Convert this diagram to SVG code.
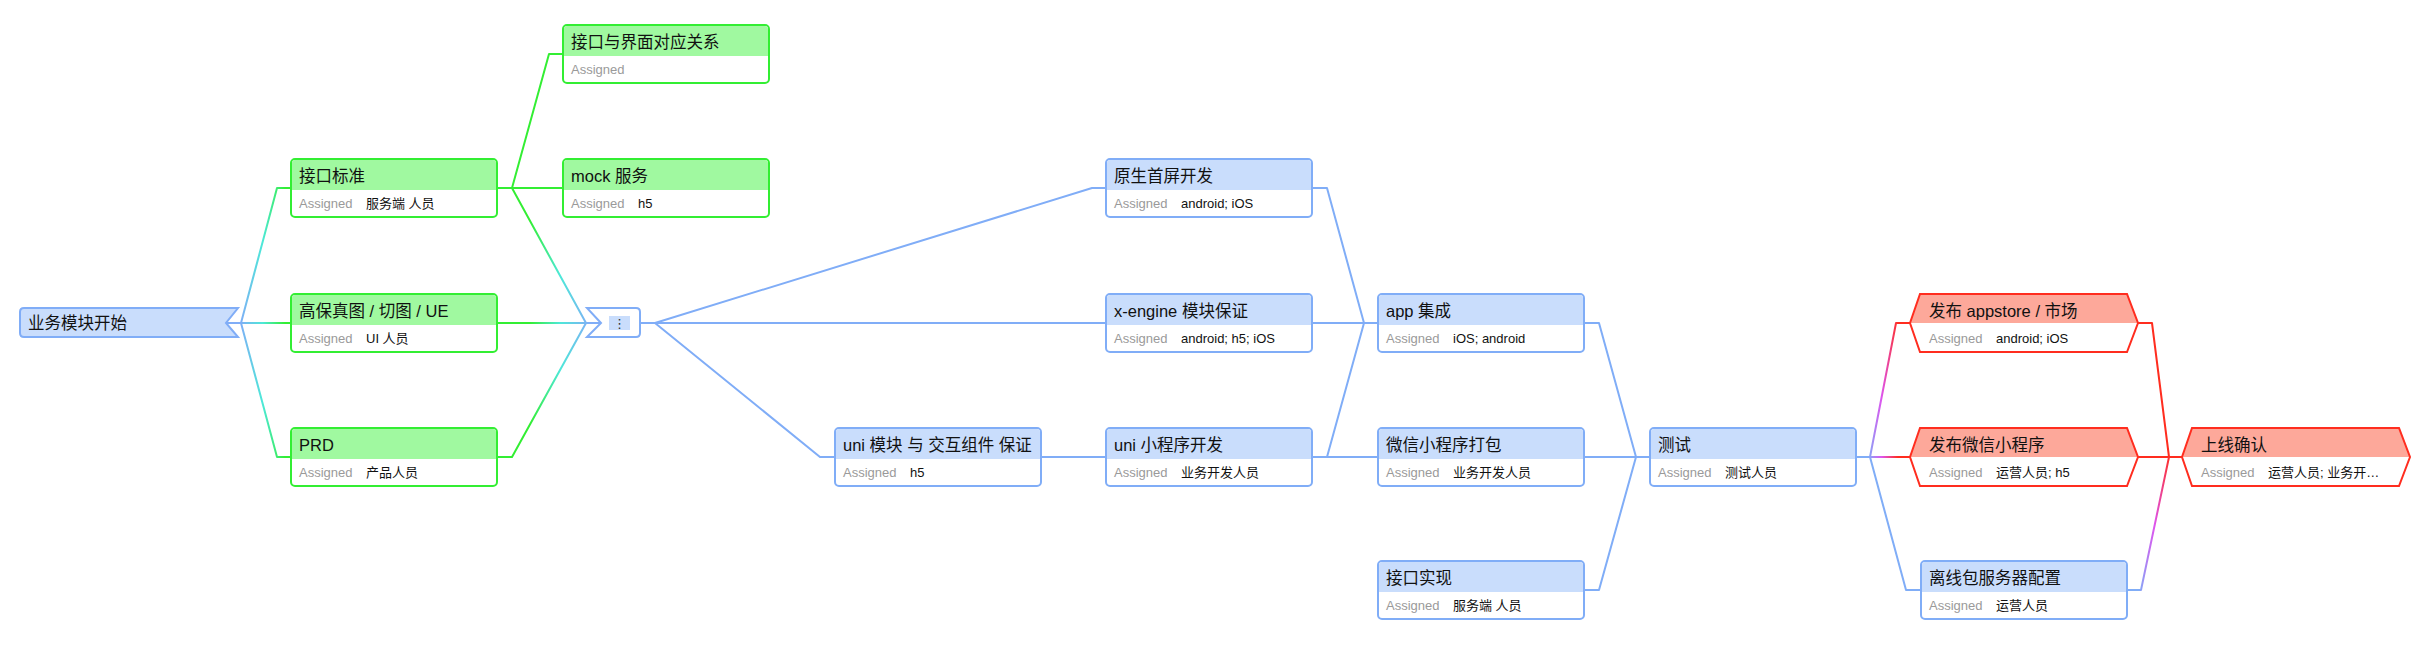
<svg xmlns="http://www.w3.org/2000/svg" width="2434" height="646" viewBox="0 0 2434 646">
<defs>
<style>
text{font-family:"Liberation Sans","Noto Sans CJK SC",sans-serif}
.t{font-size:16.5px;fill:#111}
.a{font-size:13px;fill:#9a9a9a}
.v{font-size:13px;fill:#111}
.nb{fill:#fff;stroke:#80adf7;stroke-width:2}
.hb{fill:#c9ddfc}
.ng{fill:#fff;stroke:#33ee33;stroke-width:2}
.hg{fill:#a0f9a0}
.nr{fill:none;stroke:#ff2d1f;stroke-width:2;stroke-linejoin:miter}
.hr{fill:#fda89a}
.c{fill:none;stroke-width:2;stroke-linejoin:round}
.cb{stroke:#80adf7}
.cg{stroke:#33ee33}
.cr{stroke:#ff2d1f}
</style>
<linearGradient id="gStart" gradientUnits="userSpaceOnUse" x1="240" y1="0" x2="285" y2="0">
<stop offset="0" stop-color="#80adf7"/><stop offset="0.5" stop-color="#4de8d8"/><stop offset="1" stop-color="#33ee33"/>
</linearGradient>
<linearGradient id="gMerge" gradientUnits="userSpaceOnUse" x1="530" y1="0" x2="590" y2="0">
<stop offset="0" stop-color="#33ee33"/><stop offset="0.5" stop-color="#4de8d8"/><stop offset="1" stop-color="#80adf7"/>
</linearGradient>
<linearGradient id="gRed1" gradientUnits="userSpaceOnUse" x1="1868" y1="0" x2="1898" y2="0">
<stop offset="0" stop-color="#80adf7"/><stop offset="0.45" stop-color="#dd55ee"/><stop offset="1" stop-color="#ff2d1f"/>
</linearGradient>
<linearGradient id="gRed2" gradientUnits="userSpaceOnUse" x1="2139" y1="0" x2="2170" y2="0">
<stop offset="0" stop-color="#80adf7"/><stop offset="0.5" stop-color="#dd55ee"/><stop offset="1" stop-color="#ff2d1f"/>
</linearGradient>
</defs>
<rect width="2434" height="646" fill="#fff"/>

<g id="connectors">
<path class="c" stroke="url(#gStart)" d="M226,323 H241 L277,188 H291"/>
<path class="c" stroke="url(#gStart)" d="M241,323 H291"/>
<path class="c" stroke="url(#gStart)" d="M241,323 L277,457 H291"/>
<path class="c cg" d="M497,188 H512 L549,54 H563"/>
<path class="c cg" d="M512,188 H563"/>
<path class="c" stroke="url(#gMerge)" d="M512,188 L586,323 H601"/>
<path class="c" stroke="url(#gMerge)" d="M497,323 H586"/>
<path class="c" stroke="url(#gMerge)" d="M497,457 H512 L586,323"/>
<path class="c cb" d="M640,323 H655 L1092,188 H1106"/>
<path class="c cb" d="M655,323 H1106"/>
<path class="c cb" d="M655,323 L820,457 H835"/>
<path class="c cb" d="M1041,457 H1106"/>
<path class="c cb" d="M1312,188 H1327 L1364,323 H1378"/>
<path class="c cb" d="M1312,323 H1378"/>
<path class="c cb" d="M1312,457 H1327 L1364,323"/>
<path class="c cb" d="M1327,457 H1378"/>
<path class="c cb" d="M1584,323 H1599 L1636,457 H1650"/>
<path class="c cb" d="M1584,457 H1650"/>
<path class="c cb" d="M1584,590 H1599 L1636,457"/>
<path class="c cb" d="M1856,457 H1870 L1906,590 H1920"/>
<path class="c" stroke="url(#gRed1)" d="M1856,457 H1870 L1896,323 H1910"/>
<path class="c" stroke="url(#gRed1)" d="M1870,457 H1910"/>
<path class="c cr" d="M2138,323 H2152 L2169,457 H2182"/>
<path class="c cr" d="M2138,457 H2182"/>
<path class="c" stroke="url(#gRed2)" d="M2127,590 H2141 L2169,457"/>
</g>

<g id="start">
<path class="nb" style="fill:#c9ddfc" d="M24,308 H238 L226,323 L238,337 H24 Q20,337 20,333 V312 Q20,308 24,308 Z"/>
<text class="t" x="28" y="329">业务模块开始</text>
</g>

<g id="merge">
<path class="nb" d="M587,308 H636 Q640,308 640,312 V333 Q640,337 636,337 H587 L601,323 Z"/>
<rect x="609" y="316" width="21" height="14" fill="#c9ddfc"/>
<text x="619.5" y="328" style="font-family:'DejaVu Sans',sans-serif;font-size:13px;fill:#333;text-anchor:middle">⋮</text>
</g>

<g id="n1" transform="translate(291,159)">
<rect class="ng" width="206" height="58" rx="4"/>
<path class="hg" d="M1,31 V4 Q1,1 4,1 H202 Q205,1 205,4 V31 Z"/>
<text class="t" x="8" y="23">接口标准</text>
<text class="a" x="8" y="49">Assigned</text>
<text class="v" x="75" y="49">服务端 人员</text>
</g>

<g id="n2" transform="translate(291,294)">
<rect class="ng" width="206" height="58" rx="4"/>
<path class="hg" d="M1,31 V4 Q1,1 4,1 H202 Q205,1 205,4 V31 Z"/>
<text class="t" x="8" y="23">高保真图 / 切图 / UE</text>
<text class="a" x="8" y="49">Assigned</text>
<text class="v" x="75" y="49">UI 人员</text>
</g>

<g id="n3" transform="translate(291,428)">
<rect class="ng" width="206" height="58" rx="4"/>
<path class="hg" d="M1,31 V4 Q1,1 4,1 H202 Q205,1 205,4 V31 Z"/>
<text class="t" x="8" y="23">PRD</text>
<text class="a" x="8" y="49">Assigned</text>
<text class="v" x="75" y="49">产品人员</text>
</g>

<g id="n4" transform="translate(563,25)">
<rect class="ng" width="206" height="58" rx="4"/>
<path class="hg" d="M1,31 V4 Q1,1 4,1 H202 Q205,1 205,4 V31 Z"/>
<text class="t" x="8" y="23">接口与界面对应关系</text>
<text class="a" x="8" y="49">Assigned</text>
</g>

<g id="n5" transform="translate(563,159)">
<rect class="ng" width="206" height="58" rx="4"/>
<path class="hg" d="M1,31 V4 Q1,1 4,1 H202 Q205,1 205,4 V31 Z"/>
<text class="t" x="8" y="23">mock 服务</text>
<text class="a" x="8" y="49">Assigned</text>
<text class="v" x="75" y="49">h5</text>
</g>

<g id="n6" transform="translate(835,428)">
<rect class="nb" width="206" height="58" rx="4"/>
<path class="hb" d="M1,31 V4 Q1,1 4,1 H202 Q205,1 205,4 V31 Z"/>
<text class="t" x="8" y="23">uni 模块 与 交互组件 保证</text>
<text class="a" x="8" y="49">Assigned</text>
<text class="v" x="75" y="49">h5</text>
</g>

<g id="n7" transform="translate(1106,159)">
<rect class="nb" width="206" height="58" rx="4"/>
<path class="hb" d="M1,31 V4 Q1,1 4,1 H202 Q205,1 205,4 V31 Z"/>
<text class="t" x="8" y="23">原生首屏开发</text>
<text class="a" x="8" y="49">Assigned</text>
<text class="v" x="75" y="49">android; iOS</text>
</g>

<g id="n8" transform="translate(1106,294)">
<rect class="nb" width="206" height="58" rx="4"/>
<path class="hb" d="M1,31 V4 Q1,1 4,1 H202 Q205,1 205,4 V31 Z"/>
<text class="t" x="8" y="23">x-engine 模块保证</text>
<text class="a" x="8" y="49">Assigned</text>
<text class="v" x="75" y="49">android; h5; iOS</text>
</g>

<g id="n9" transform="translate(1106,428)">
<rect class="nb" width="206" height="58" rx="4"/>
<path class="hb" d="M1,31 V4 Q1,1 4,1 H202 Q205,1 205,4 V31 Z"/>
<text class="t" x="8" y="23">uni 小程序开发</text>
<text class="a" x="8" y="49">Assigned</text>
<text class="v" x="75" y="49">业务开发人员</text>
</g>

<g id="n10" transform="translate(1378,294)">
<rect class="nb" width="206" height="58" rx="4"/>
<path class="hb" d="M1,31 V4 Q1,1 4,1 H202 Q205,1 205,4 V31 Z"/>
<text class="t" x="8" y="23">app 集成</text>
<text class="a" x="8" y="49">Assigned</text>
<text class="v" x="75" y="49">iOS; android</text>
</g>

<g id="n11" transform="translate(1378,428)">
<rect class="nb" width="206" height="58" rx="4"/>
<path class="hb" d="M1,31 V4 Q1,1 4,1 H202 Q205,1 205,4 V31 Z"/>
<text class="t" x="8" y="23">微信小程序打包</text>
<text class="a" x="8" y="49">Assigned</text>
<text class="v" x="75" y="49">业务开发人员</text>
</g>

<g id="n12" transform="translate(1378,561)">
<rect class="nb" width="206" height="58" rx="4"/>
<path class="hb" d="M1,31 V4 Q1,1 4,1 H202 Q205,1 205,4 V31 Z"/>
<text class="t" x="8" y="23">接口实现</text>
<text class="a" x="8" y="49">Assigned</text>
<text class="v" x="75" y="49">服务端 人员</text>
</g>

<g id="n13" transform="translate(1650,428)">
<rect class="nb" width="206" height="58" rx="4"/>
<path class="hb" d="M1,31 V4 Q1,1 4,1 H202 Q205,1 205,4 V31 Z"/>
<text class="t" x="8" y="23">测试</text>
<text class="a" x="8" y="49">Assigned</text>
<text class="v" x="75" y="49">测试人员</text>
</g>

<g id="n14" transform="translate(1920,294)">
<polygon fill="#fff" points="-10,29 0,0 207,0 218,29 207,58 0,58"/>
<polygon class="hr" points="-10,29 0,0 207,0 218,29"/>
<polygon class="nr" points="-10,29 0,0 207,0 218,29 207,58 0,58"/>
<text class="t" x="9" y="23">发布 appstore / 市场</text>
<text class="a" x="9" y="49">Assigned</text>
<text class="v" x="76" y="49">android; iOS</text>
</g>

<g id="n15" transform="translate(1920,428)">
<polygon fill="#fff" points="-10,29 0,0 207,0 218,29 207,58 0,58"/>
<polygon class="hr" points="-10,29 0,0 207,0 218,29"/>
<polygon class="nr" points="-10,29 0,0 207,0 218,29 207,58 0,58"/>
<text class="t" x="9" y="23">发布微信小程序</text>
<text class="a" x="9" y="49">Assigned</text>
<text class="v" x="76" y="49">运营人员; h5</text>
</g>

<g id="n16" transform="translate(1921,561)">
<rect class="nb" width="206" height="58" rx="4"/>
<path class="hb" d="M1,31 V4 Q1,1 4,1 H202 Q205,1 205,4 V31 Z"/>
<text class="t" x="8" y="23">离线包服务器配置</text>
<text class="a" x="8" y="49">Assigned</text>
<text class="v" x="75" y="49">运营人员</text>
</g>

<g id="n17" transform="translate(2192,428)">
<polygon fill="#fff" points="-10,29 0,0 207,0 218,29 207,58 0,58"/>
<polygon class="hr" points="-10,29 0,0 207,0 218,29"/>
<polygon class="nr" points="-10,29 0,0 207,0 218,29 207,58 0,58"/>
<text class="t" x="9" y="23">上线确认</text>
<text class="a" x="9" y="49">Assigned</text>
<text class="v" x="76" y="49">运营人员; 业务开…</text>
</g>
</svg>
